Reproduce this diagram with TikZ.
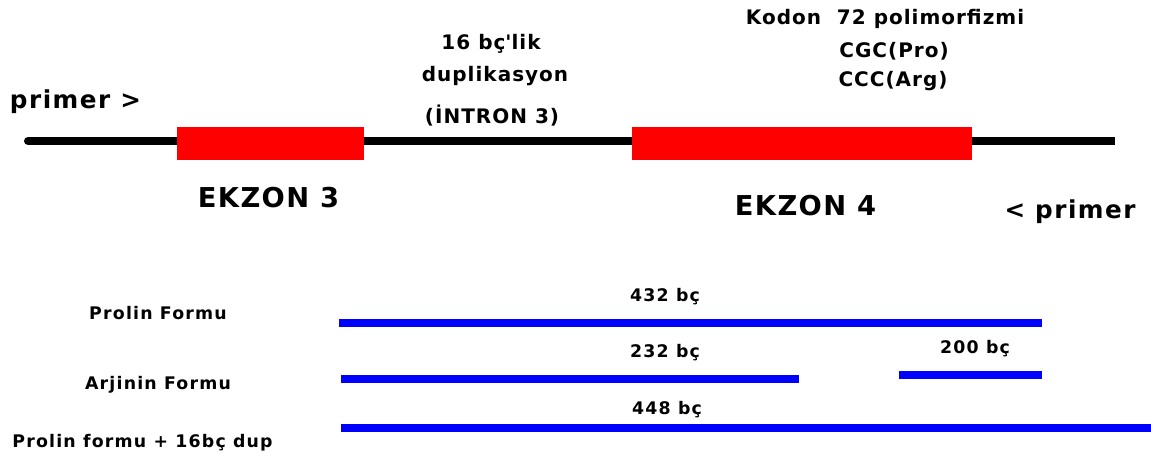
\documentclass[tikz,border=0pt]{standalone}
\usepackage{fontspec}
\newfontfamily\primerfont[LetterSpace=6]{DejaVu Sans}
\newfontfamily\exonfont[LetterSpace=5]{DejaVu Sans}
\newfontfamily\notefont[LetterSpace=5]{DejaVu Sans}
\newfontfamily\formfont[LetterSpace=7]{DejaVu Sans}
\definecolor{exonred}{HTML}{FF0000}
\definecolor{bandblue}{HTML}{0000FF}
\definecolor{dnablack}{HTML}{000000}
\tikzset{
  exon/.style={
    fill=exonred, draw=none, inner sep=0pt,
    minimum height=24pt, minimum width=#1
  },
  exon/.default=140pt,
  dna/.style={line width=6pt, line cap=round, color=dnablack},
  band/.style={line width=6pt, color=bandblue},
  primerlbl/.style={font=\primerfont\bfseries\fontsize{18.5}{20}\selectfont,
    anchor=base, inner sep=0pt},
  exonlbl/.style={font=\exonfont\bfseries\fontsize{20.5}{24}\selectfont,
    anchor=base, inner sep=0pt},
  note/.style={font=\notefont\bfseries\fontsize{15}{17}\selectfont,
    anchor=base, inner sep=0pt},
  form/.style={font=\formfont\bfseries\fontsize{13}{14}\selectfont,
    anchor=base, inner sep=0pt},
}

\begin{document}
\begin{tikzpicture}[x=0.75pt, y=-0.75pt]
  \useasboundingbox (0,0) rectangle (1151,456);

  % Gen
  \coordinate (lstart) at (28,141);
  \coordinate (lend) at (1115,141);
  \node[exon=140.25pt] (ex3) at (270.5,143.5) {};
  \node[exon=255pt] (ex4) at (802,143.5) {};
  \draw[dna] (lstart) -- (ex3.west |- lstart);
  \draw[dna] (ex3.east |- lstart) -- (ex4.west |- lstart);
  \draw[dna, line cap=butt] (ex4.east |- lstart) -- (lend);
  \node[exon=140.25pt] at (ex3) {};
  \node[exon=255pt] at (ex4) {};

  \node[primerlbl] (pf) at (75.5,109) {primer >};
  \node[primerlbl] (pr) at (1070,218) {< primer};
  \node[exonlbl] (ex3lbl) at (268.5,207) {EKZON 3};
  \node[exonlbl] (ex4lbl) at (805.5,215) {EKZON 4};

  \node[note] (dup1) at (491,50) {16 bç\textquotesingle lik};
  \node[note] (dup2) at (495,82) {duplikasyon};
  \node[note] (dup3) at (492,123) {(İNTRON 3)};

  \node[note] (kod) at (885,25) {Kodon\ \ 72 polimorfizmi};
  \node[note] (pro) at (894,58) {CGC(Pro)};
  \node[note] (arg) at (893,87) {CCC(Arg)};

  % PCR urunleri
  \node[form] (prolbl) at (158,319) {Prolin Formu};
  \node[form] (arglbl) at (158,389) {Arjinin Formu};
  \node[form] (duplbl) at (142.5,447) {Prolin formu + 16bç dup};

  \coordinate (b1a) at (339,323);  \coordinate (b1b) at (1042,323);
  \coordinate (b2a) at (341,379);  \coordinate (b2b) at (799,379);
  \coordinate (b2c) at (899,375);  \coordinate (b2d) at (1042,375);
  \coordinate (b3a) at (341,428);  \coordinate (b3b) at (1151,428);
  \draw[band] (b1a) -- (b1b);
  \draw[band] (b2a) -- (b2b);
  \draw[band] (b2c) -- (b2d);
  \draw[band] (b3a) -- (b3b);

  \node[form] (n432) at (665,301) {432 bç};
  \node[form] (n232) at (665,357) {232 bç};
  \node[form] (n200) at (975,353) {200 bç};
  \node[form] (n448) at (667,414) {448 bç};
\end{tikzpicture}
\end{document}
